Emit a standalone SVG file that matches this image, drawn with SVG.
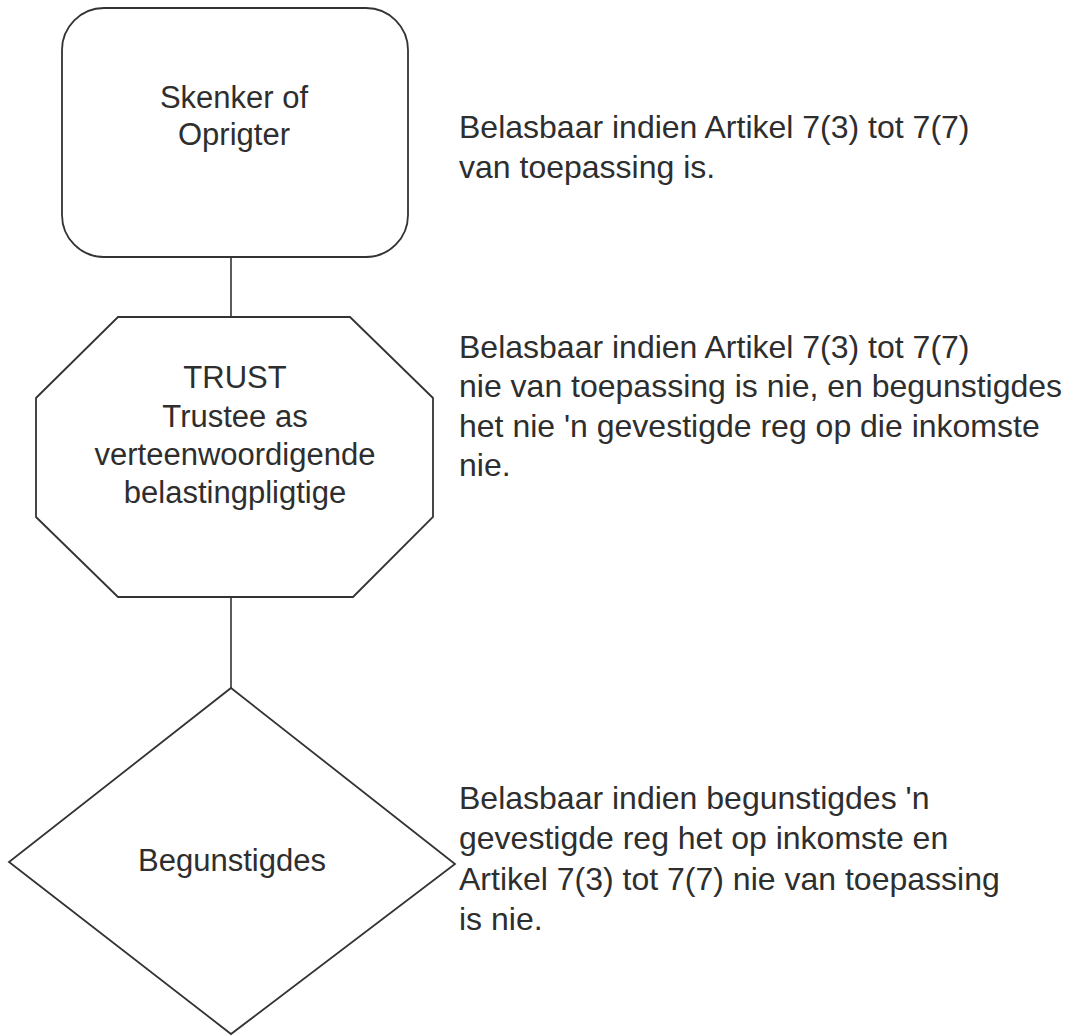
<svg xmlns="http://www.w3.org/2000/svg" width="1065" height="1036" viewBox="0 0 1065 1036">
  <style>
    .shape { fill: #ffffff; stroke: #333333; stroke-width: 1.8; }
    .link { fill: none; stroke: #333333; stroke-width: 1.6; }
    .label { font-family: "Liberation Sans", Arial, sans-serif; font-size: 31px; fill: #2e2e2e; text-anchor: middle; }
    .note { font-family: "Liberation Sans", Arial, sans-serif; font-size: 32px; fill: #2e2e2e; }
  </style>
  <rect width="1065" height="1036" fill="#ffffff"/>

  <!-- vertical links between the three parties -->
  <g id="connectors">
    <line class="link" x1="231" y1="257" x2="231" y2="317"/>
    <line class="link" x1="231" y1="597" x2="231" y2="688"/>
  </g>

  <!-- settlor / founder -->
  <g id="node-skenker">
    <rect class="shape" x="62" y="8" width="346" height="249" rx="42" ry="42"/>
    <text class="label" x="234" y="108">Skenker of</text>
    <text class="label" x="234" y="145">Oprigter</text>
  </g>

  <!-- trust with trustee as representative taxpayer -->
  <g id="node-trust">
    <polygon class="shape" points="118,317 350,317 433,398 433,517 353,597 118,597 36,517 36,398"/>
    <text class="label" x="235" y="388">TRUST</text>
    <text class="label" x="235" y="427">Trustee as</text>
    <text class="label" x="235" y="465">verteenwoordigende</text>
    <text class="label" x="235" y="503">belastingpligtige</text>
  </g>

  <!-- beneficiaries -->
  <g id="node-begunstigdes">
    <polygon class="shape" points="231,688 455,864 231,1034 9,862"/>
    <text class="label" x="232" y="871">Begunstigdes</text>
  </g>

  <!-- tax notes beside each party -->
  <g id="note-skenker">
    <text class="note" x="459" y="138">Belasbaar indien Artikel 7(3) tot 7(7)</text>
    <text class="note" x="459" y="178">van toepassing is.</text>
  </g>
  <g id="note-trust">
    <text class="note" x="459" y="358">Belasbaar indien Artikel 7(3) tot 7(7)</text>
    <text class="note" x="459" y="397">nie van toepassing is nie, en begunstigdes</text>
    <text class="note" x="459" y="437">het nie 'n gevestigde reg op die inkomste</text>
    <text class="note" x="459" y="476">nie.</text>
  </g>
  <g id="note-begunstigdes">
    <text class="note" x="459" y="809">Belasbaar indien begunstigdes 'n</text>
    <text class="note" x="459" y="849">gevestigde reg het op inkomste en</text>
    <text class="note" x="459" y="890">Artikel 7(3) tot 7(7) nie van toepassing</text>
    <text class="note" x="459" y="930">is nie.</text>
  </g>
</svg>
